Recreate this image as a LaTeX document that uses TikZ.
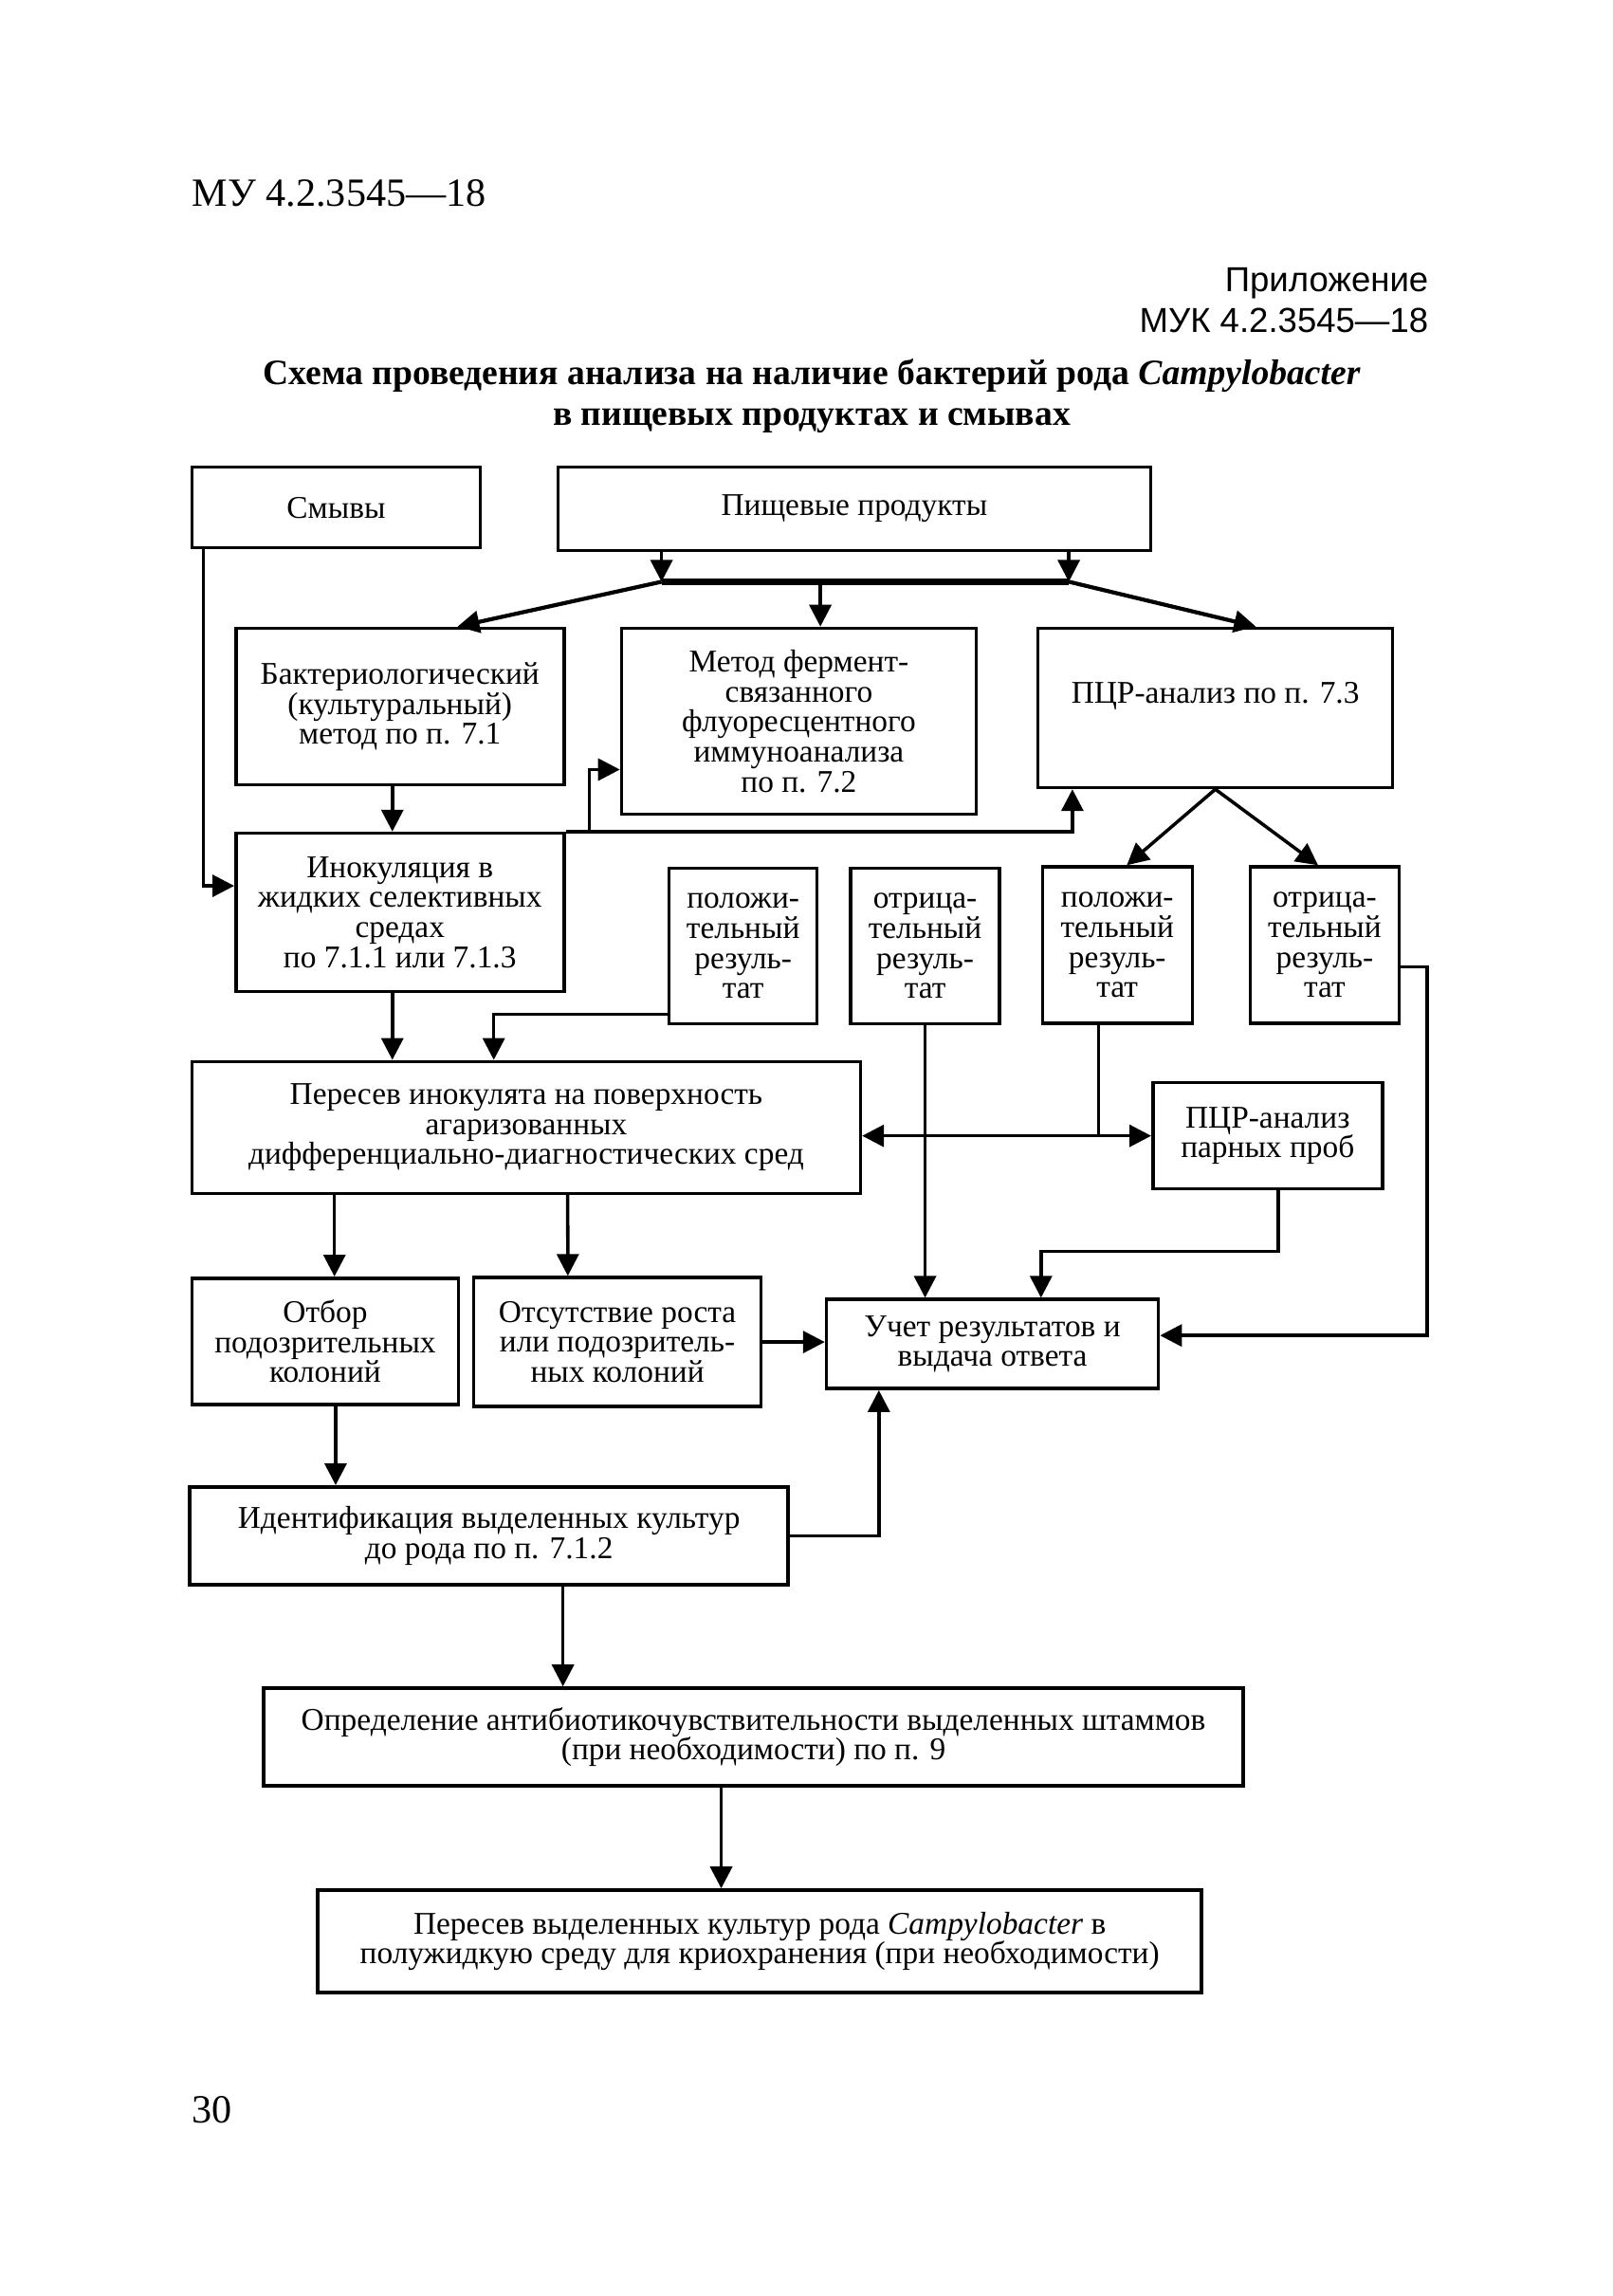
\documentclass[tikz,border=0pt]{standalone}
\usepackage{fontspec}
\setmainfont{Liberation Serif}
\newfontfamily\appfont{Liberation Sans}
\usepackage{tikz}
\usetikzlibrary{arrows.meta, calc, positioning}
\newcommand{\boxfont}{\fontsize{9.5}{9}\selectfont\lineskiplimit=-5pt\relax}

\begin{document}
\begin{tikzpicture}[scale=1.0, line width=1pt,
        box/.style={draw, anchor=north west, align=center, inner sep=1pt, font=\boxfont},
        head/.style={inner sep=0pt},
        arr/.style={-{Triangle[length=2.3mm, width=2.3mm]}},
        dbl/.style={{Triangle[length=2.3mm, width=2.3mm]}-{Triangle[length=2.3mm, width=2.3mm]}}]
        \useasboundingbox (0,0) rectangle (17.01,-24.21);
        \node[head, anchor=base west, font=\fontsize{12}{14}\selectfont] (mu) at (2.01,-2.17) {МУ 4.2.3545—18};
        \node[head, anchor=base east, font=\appfont\fontsize{10.4}{12}\selectfont] (app) at (15.08,-3.07) {Приложение};
        \node[head, anchor=base east, font=\appfont\fontsize{10.4}{12}\selectfont] (muk) at (15.08,-3.50) {МУК 4.2.3545—18};
        \node[head, anchor=base, font=\bfseries\fontsize{10.7}{12}\selectfont] (title) at (8.56,-4.05) {Схема проведения анализа на наличие бактерий рода \textit{Campylobacter}};
        \node[head, anchor=base, font=\bfseries\fontsize{10.7}{12}\selectfont] (subtitle) at (8.56,-4.48) {в пищевых продуктах и смывах};

        \node[box, minimum width=3.04cm, minimum height=0.85cm] (smyvy) at (2.007,-4.909) {Смывы};
        \node[box, minimum width=6.25cm, minimum height=0.88cm] (pishch) at (5.866,-4.909) {Пищевые продукты};
        \node[box, minimum width=3.46cm, minimum height=1.65cm] (bakt) at (2.47,-6.607) {Бактериологический\\(культуральный)\\метод по п. 7.1};
        \node[box, minimum width=3.74cm, minimum height=1.96cm] (ferm) at (6.537,-6.607) {Метод фермент-\\связанного\\флуоресцентного\\иммуноанализа\\по п. 7.2};
        \node[box, minimum width=3.74cm, minimum height=1.68cm, text depth=0.33cm] (pcr) at (10.929,-6.607) {ПЦР-анализ по п. 7.3};
        \node[box, minimum width=3.46cm, minimum height=1.67cm] (inok) at (2.47,-8.768) {Инокуляция в\\жидких селективных\\средах\\по 7.1.1 или 7.1.3};
        \node[box, minimum width=1.56cm, minimum height=1.64cm] (pos1) at (7.039,-9.138) {положи-\\тельный\\резуль-\\тат};
        \node[box, minimum width=1.57cm, minimum height=1.64cm] (neg1) at (8.953,-9.138) {отрица-\\тельный\\резуль-\\тат};
        \node[box, minimum width=1.58cm, minimum height=1.65cm] (pos2) at (10.975,-9.123) {положи-\\тельный\\резуль-\\тат};
        \node[box, minimum width=1.57cm, minimum height=1.65cm] (neg2) at (13.167,-9.123) {отрица-\\тельный\\резуль-\\тат};
        \node[box, minimum width=7.05cm, minimum height=1.39cm] (peresev) at (2.007,-11.176) {Пересев инокулята на поверхность\\агаризованных\\дифференциально-диагностических сред};
        \node[box, minimum width=2.42cm, minimum height=1.12cm] (pcrpair) at (12.14,-11.399) {ПЦР-анализ\\парных проб};
        \node[box, minimum width=2.81cm, minimum height=1.33cm] (otbor) at (2.007,-13.46) {Отбор\\подозрительных\\колоний};
        \node[box, minimum width=3.03cm, minimum height=1.36cm] (nogrowth) at (4.978,-13.453) {Отсутствие роста\\или подозритель-\\ных колоний};
        \node[box, minimum width=3.5cm, minimum height=0.94cm] (uchet) at (8.698,-13.684) {Учет результатов и\\выдача ответа};
        \node[box, minimum width=6.31cm, minimum height=1.03cm] (ident) at (1.984,-15.66) {Идентификация выделенных культур\\до рода по п. 7.1.2};
        \node[box, minimum width=10.33cm, minimum height=1.03cm] (antib) at (2.763,-17.782) {Определение антибиотикочувствительности выделенных штаммов\\(при необходимости) по п. 9};
        \node[box, minimum width=9.32cm, minimum height=1.08cm] (cryo) at (3.334,-19.912) {Пересев выделенных культур рода \textit{Campylobacter} в\\полужидкую среду для криохранения (при необходимости)};
        \node[head, anchor=base west, font=\fontsize{12}{14}\selectfont] (page) at (2.01,-22.38) {30};

        \coordinate (barL) at ([xshift=1.11cm, yshift=-0.31cm]pishch.south west);
        \coordinate (barR) at ([xshift=-0.88cm, yshift=-0.31cm]pishch.south east);
        \coordinate (barM) at ($(barL)!0.39!(barR)$);
        \draw[line width=2pt] (barL) -- (barR);
        \draw[arr] (pishch.south west -| barL) -- (barL);
        \draw[arr] (pishch.south east -| barR) -- (barR);
        \draw[arr, line width=1.2pt] (barL) -- ([xshift=-1.14cm]bakt.north east);
        \draw[arr] (barM) -- (barM |- ferm.north);
        \draw[arr, line width=1.2pt] (barR) -- ([xshift=-1.46cm]pcr.north east);

        \draw[arr] ([xshift=-0.08cm]bakt.south) -- ([xshift=-0.08cm]bakt.south |- inok.north);
        \draw[arr] ([xshift=0.14cm]smyvy.south west) |- ([yshift=0.28cm]inok.west);
        \coordinate (fork) at ([xshift=0.25cm]inok.north east);
        \draw[arr] (inok.north east) -| ([xshift=0.38cm]pcr.south west);
        \draw[arr] (fork) |- ([yshift=-0.51cm]ferm.west);
        \draw[arr] (pcr.south) -- ([xshift=0.1cm]pos2.north);
        \draw[arr] (pcr.south) -- ([xshift=-0.07cm]neg2.north);

        \draw[arr] ([xshift=-0.08cm]inok.south) -- ([xshift=-0.08cm]inok.south |- peresev.north);
        \draw[arr] ([yshift=0.12cm]pos1.south west) -| ([xshift=3.2cm]peresev.north west);
        \draw[arr] (neg1.south) -- (neg1.south |- uchet.north);
        \coordinate (cross) at ([xshift=-0.2cm]pos2.south |- pcrpair.west);
        \draw ([xshift=-0.2cm]pos2.south) -- (cross);
        \draw[dbl] (cross -| peresev.east) -- (pcrpair.west);
        \draw[arr] ([xshift=0.11cm]pcrpair.south) -- ++(0,-0.64) -| ([xshift=2.28cm]uchet.north west);
        \draw[arr] ([yshift=-0.23cm]neg2.east) -- ++(0.28,0) |- ([yshift=0.09cm]uchet.east);

        \draw[arr] ([xshift=1.52cm]peresev.south west) -- ([xshift=1.52cm]otbor.north west);
        \draw[arr] ([xshift=3.98cm]peresev.south west) -- ([xshift=1.01cm]nogrowth.north west);
        \draw[arr] (nogrowth.east) -- (nogrowth.east -| uchet.west);
        \draw[arr] ([xshift=0.11cm]otbor.south) -- ([xshift=0.11cm]otbor.south |- ident.north);
        \draw[arr] (ident.east) -| ([xshift=0.57cm]uchet.south west);
        \draw[arr] ([xshift=0.78cm]ident.south) -- ([xshift=0.78cm]ident.south |- antib.north);
        \draw[arr] ([xshift=-0.34cm]antib.south) -- ([xshift=-0.34cm]antib.south |- cryo.north);
    \end{tikzpicture}
\end{document}
